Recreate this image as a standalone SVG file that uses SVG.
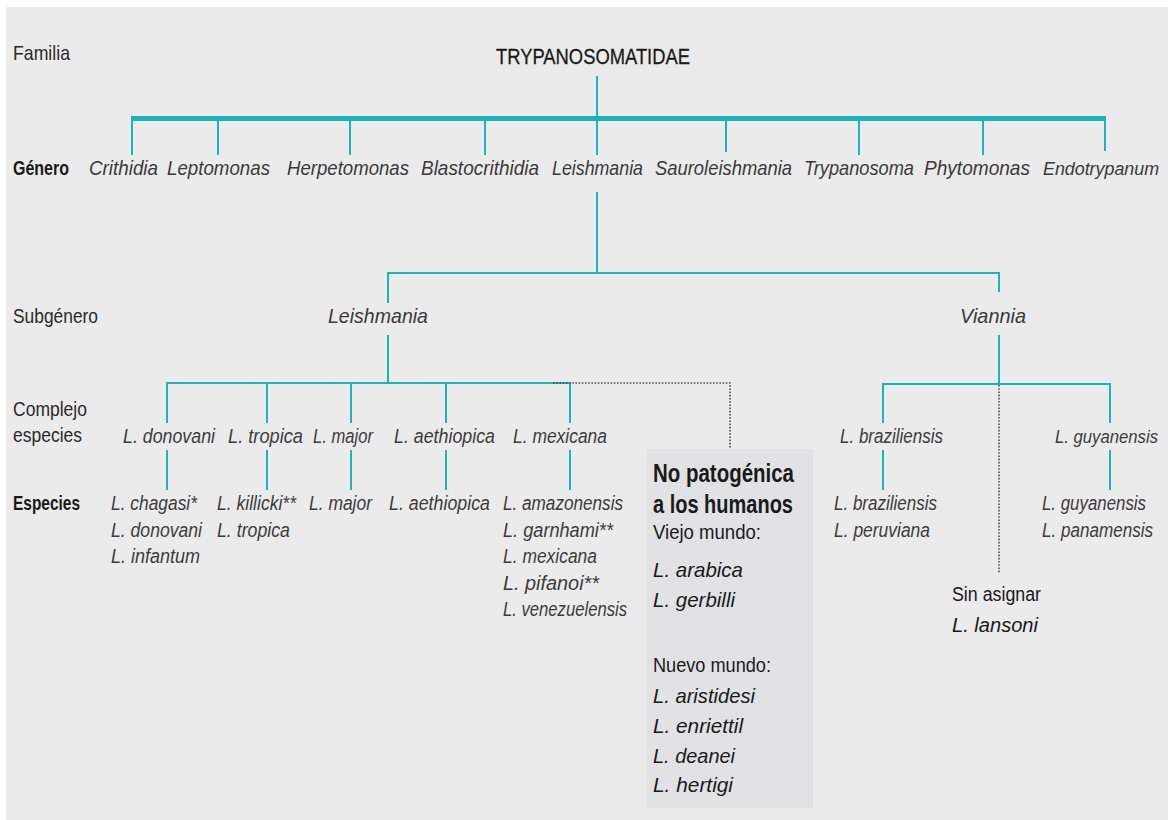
<svg xmlns="http://www.w3.org/2000/svg" width="1172" height="820" viewBox="0 0 1172 820">
<style>
.ln{stroke:#1cb3bb;stroke-width:2;fill:none}
.thick{stroke-width:5}
.dot{stroke:#4a4a4a;stroke-width:1.6;stroke-dasharray:1.6 1.6;fill:none}
text{font-family:"Liberation Sans",Arial,sans-serif}
.lab{font-size:21px;fill:#2a2a2a}
.labb{font-size:21px;fill:#1a1a1a;font-weight:bold}
.title{font-size:22px;fill:#1a1a1a;stroke:#1a1a1a;stroke-width:0.3}
.gen{font-size:21px;font-style:italic;fill:#3a3a3a}
.sp{font-size:19.5px;font-style:italic;fill:#3c3c3c}
.bx{font-size:25px;font-weight:bold;fill:#1a1a1a}
.bxr{font-size:21px;fill:#1a1a1a}
.bxi{font-size:21px;font-style:italic;fill:#1a1a1a}
.un{font-size:20px;fill:#1a1a1a}
</style>
<rect x="6" y="7" width="1162" height="813" fill="#ebebeb"/>
<g id="labels">
<text class="lab" x="13" y="60" textLength="57" lengthAdjust="spacingAndGlyphs">Familia</text>
<text class="labb" x="13" y="175" textLength="56" lengthAdjust="spacingAndGlyphs">Género</text>
<text class="lab" x="13" y="323" textLength="85" lengthAdjust="spacingAndGlyphs">Subgénero</text>
<text class="lab" x="13" y="416" textLength="74" lengthAdjust="spacingAndGlyphs">Complejo</text>
<text class="lab" x="13" y="442" textLength="69" lengthAdjust="spacingAndGlyphs">especies</text>
<text class="labb" x="13" y="510" textLength="67" lengthAdjust="spacingAndGlyphs">Especies</text>
</g>
<g id="connectors">
<line class="ln thick" x1="131" y1="118.5" x2="1106" y2="118.5"/>
<line class="ln" x1="597" y1="76" x2="597" y2="155"/>
<line class="ln" x1="132" y1="118" x2="132" y2="155"/>
<line class="ln" x1="218" y1="118" x2="218" y2="155"/>
<line class="ln" x1="350" y1="118" x2="350" y2="155"/>
<line class="ln" x1="485" y1="118" x2="485" y2="155"/>
<line class="ln" x1="726" y1="118" x2="726" y2="152"/>
<line class="ln" x1="859" y1="118" x2="859" y2="155"/>
<line class="ln" x1="983" y1="118" x2="983" y2="155"/>
<line class="ln" x1="1105" y1="118" x2="1105" y2="151"/>
<line class="ln" x1="597" y1="192" x2="597" y2="273"/>
<line class="ln" x1="387" y1="273" x2="999" y2="273"/>
<line class="ln" x1="388" y1="272" x2="388" y2="303"/>
<line class="ln" x1="999" y1="272" x2="999" y2="292"/>
<line class="ln" x1="388" y1="335" x2="388" y2="383"/>
<line class="ln" x1="999" y1="335" x2="999" y2="384"/>
<line class="ln" x1="166" y1="383" x2="571" y2="383"/>
<line class="ln" x1="167" y1="383" x2="167" y2="423"/>
<line class="ln" x1="267" y1="383" x2="267" y2="423"/>
<line class="ln" x1="351" y1="383" x2="351" y2="423"/>
<line class="ln" x1="446" y1="383" x2="446" y2="423"/>
<line class="ln" x1="570" y1="383" x2="570" y2="423"/>
<line class="ln" x1="167" y1="450" x2="167" y2="490"/>
<line class="ln" x1="267" y1="450" x2="267" y2="490"/>
<line class="ln" x1="351" y1="450" x2="351" y2="490"/>
<line class="ln" x1="446" y1="450" x2="446" y2="490"/>
<line class="ln" x1="570" y1="450" x2="570" y2="490"/>
<line class="ln" x1="882" y1="384" x2="1111" y2="384"/>
<line class="ln" x1="883" y1="384" x2="883" y2="423"/>
<line class="ln" x1="1110" y1="384" x2="1110" y2="423"/>
<line class="ln" x1="883" y1="450" x2="883" y2="490"/>
<line class="ln" x1="1110" y1="450" x2="1110" y2="490"/>
<polyline class="dot" points="553,383 730,383 730,448"/>
<line class="dot" x1="999" y1="385" x2="999" y2="573"/>
</g>
<g id="family">
<text class="title" x="496" y="64" textLength="194" lengthAdjust="spacingAndGlyphs">TRYPANOSOMATIDAE</text>
</g>
<g id="genera">
<text class="gen" x="89" y="175" textLength="69" lengthAdjust="spacingAndGlyphs">Crithidia</text>
<text class="gen" x="167" y="175" textLength="103" lengthAdjust="spacingAndGlyphs">Leptomonas</text>
<text class="gen" x="287" y="175" textLength="122" lengthAdjust="spacingAndGlyphs">Herpetomonas</text>
<text class="gen" x="421" y="175" textLength="118" lengthAdjust="spacingAndGlyphs">Blastocrithidia</text>
<text class="gen" x="552" y="175" textLength="91" lengthAdjust="spacingAndGlyphs">Leishmania</text>
<text class="gen" x="655" y="175" textLength="137" lengthAdjust="spacingAndGlyphs">Sauroleishmania</text>
<text class="gen" x="804" y="175" textLength="110" lengthAdjust="spacingAndGlyphs">Trypanosoma</text>
<text class="gen" x="924" y="175" textLength="106" lengthAdjust="spacingAndGlyphs">Phytomonas</text>
<text class="gen" x="1043" y="175" textLength="116" lengthAdjust="spacingAndGlyphs" style="font-size:18px">Endotrypanum</text>
</g>
<g id="subgenera">
<text class="gen" x="328" y="323" textLength="100" lengthAdjust="spacingAndGlyphs">Leishmania</text>
<text class="gen" x="960" y="323" textLength="66" lengthAdjust="spacingAndGlyphs">Viannia</text>
</g>
<g id="complex-donovani">
<text class="sp" x="123" y="443" textLength="92" lengthAdjust="spacingAndGlyphs">L. donovani</text>
<text class="sp" x="111" y="510" textLength="86" lengthAdjust="spacingAndGlyphs">L. chagasi*</text>
<text class="sp" x="111" y="536.5" textLength="91" lengthAdjust="spacingAndGlyphs">L. donovani</text>
<text class="sp" x="111" y="563" textLength="89" lengthAdjust="spacingAndGlyphs">L. infantum</text>
</g>
<g id="complex-tropica">
<text class="sp" x="228" y="443" textLength="75" lengthAdjust="spacingAndGlyphs">L. tropica</text>
<text class="sp" x="217" y="510" textLength="79" lengthAdjust="spacingAndGlyphs">L. killicki**</text>
<text class="sp" x="217" y="536.5" textLength="73" lengthAdjust="spacingAndGlyphs">L. tropica</text>
</g>
<g id="complex-major">
<text class="sp" x="313" y="443" textLength="60" lengthAdjust="spacingAndGlyphs">L. major</text>
<text class="sp" x="309" y="510" textLength="63" lengthAdjust="spacingAndGlyphs">L. major</text>
</g>
<g id="complex-aethiopica">
<text class="sp" x="394" y="443" textLength="101" lengthAdjust="spacingAndGlyphs">L. aethiopica</text>
<text class="sp" x="389" y="510" textLength="101" lengthAdjust="spacingAndGlyphs">L. aethiopica</text>
</g>
<g id="complex-mexicana">
<text class="sp" x="513" y="443" textLength="94" lengthAdjust="spacingAndGlyphs">L. mexicana</text>
<text class="sp" x="503" y="510" textLength="120" lengthAdjust="spacingAndGlyphs">L. amazonensis</text>
<text class="sp" x="503" y="536.5" textLength="110" lengthAdjust="spacingAndGlyphs">L. garnhami**</text>
<text class="sp" x="503" y="563" textLength="94" lengthAdjust="spacingAndGlyphs">L. mexicana</text>
<text class="sp" x="503" y="589.5" textLength="96" lengthAdjust="spacingAndGlyphs">L. pifanoi**</text>
<text class="sp" x="503" y="616" textLength="124" lengthAdjust="spacingAndGlyphs">L. venezuelensis</text>
</g>
<g id="non-pathogenic">
<rect x="647" y="449" width="166" height="359" fill="#e1e2e4"/>
<text class="bx" x="653" y="482" textLength="141" lengthAdjust="spacingAndGlyphs">No patogénica</text>
<text class="bx" x="653" y="513" textLength="140" lengthAdjust="spacingAndGlyphs">a los humanos</text>
<text class="bxr" x="653" y="539" textLength="108" lengthAdjust="spacingAndGlyphs">Viejo mundo:</text>
<text class="bxi" x="653" y="577" textLength="90" lengthAdjust="spacingAndGlyphs">L. arabica</text>
<text class="bxi" x="653" y="607" textLength="82" lengthAdjust="spacingAndGlyphs">L. gerbilli</text>
<text class="bxr" x="653" y="672" textLength="118" lengthAdjust="spacingAndGlyphs">Nuevo mundo:</text>
<text class="bxi" x="653" y="703" textLength="102" lengthAdjust="spacingAndGlyphs">L. aristidesi</text>
<text class="bxi" x="653" y="733" textLength="90" lengthAdjust="spacingAndGlyphs">L. enriettil</text>
<text class="bxi" x="653" y="763" textLength="82" lengthAdjust="spacingAndGlyphs">L. deanei</text>
<text class="bxi" x="653" y="792" textLength="80" lengthAdjust="spacingAndGlyphs">L. hertigi</text>
</g>
<g id="complex-braziliensis">
<text class="sp" x="840" y="443" textLength="103" lengthAdjust="spacingAndGlyphs">L. braziliensis</text>
<text class="sp" x="834" y="510" textLength="103" lengthAdjust="spacingAndGlyphs">L. braziliensis</text>
<text class="sp" x="834" y="536.5" textLength="96" lengthAdjust="spacingAndGlyphs">L. peruviana</text>
</g>
<g id="complex-guyanensis">
<text class="sp" x="1055" y="443" textLength="103" lengthAdjust="spacingAndGlyphs" style="font-size:17.5px">L. guyanensis</text>
<text class="sp" x="1042" y="510" textLength="104" lengthAdjust="spacingAndGlyphs">L. guyanensis</text>
<text class="sp" x="1042" y="536.5" textLength="111" lengthAdjust="spacingAndGlyphs">L. panamensis</text>
</g>
<g id="unassigned">
<text class="un" x="952" y="601" textLength="89" lengthAdjust="spacingAndGlyphs">Sin asignar</text>
<text class="un" x="952" y="632" textLength="86" lengthAdjust="spacingAndGlyphs" font-style="italic">L. lansoni</text>
</g>
</svg>
